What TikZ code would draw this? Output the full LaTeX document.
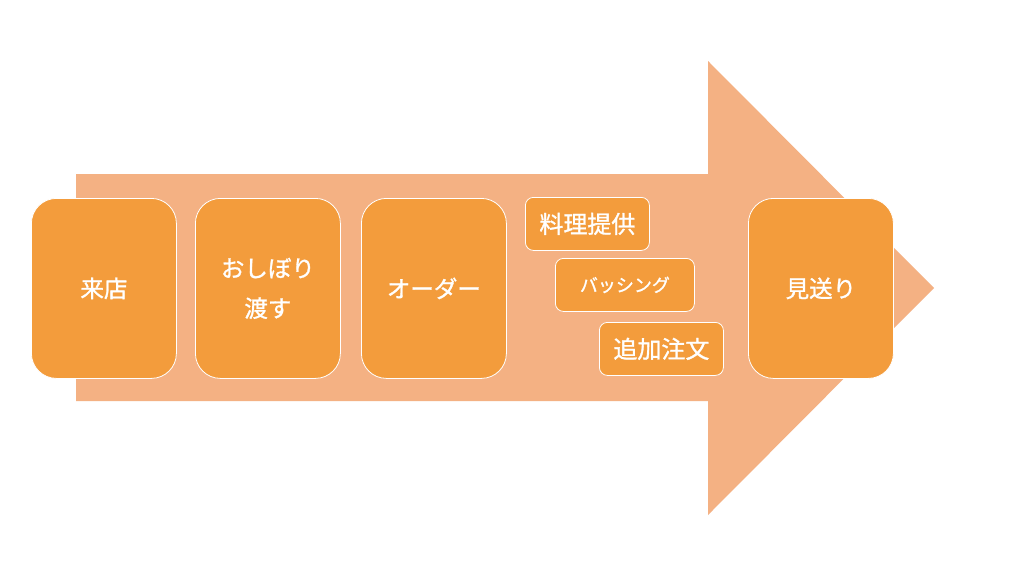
\documentclass[tikz,border=0pt]{standalone}
\usepackage{fontspec}
\newfontfamily\cjk[FakeBold=1.2,AutoFakeBold=false]{Noto Sans CJK JP}
\definecolor{arrowc}{HTML}{F4B183}
\definecolor{boxc}{HTML}{F39C3C}
\begin{document}
\begin{tikzpicture}[x=1pt,y=-1pt,
  bigbox/.style={draw=white,line width=0.8pt,fill=boxc,rounded corners=25pt,
    minimum width=145pt,minimum height=180pt,text=white,font=\cjk\fontsize{23.5}{40}\selectfont,
    align=center,inner sep=0pt,anchor=north west},
  smallbox/.style={draw=white,line width=0.8pt,fill=boxc,rounded corners=8pt,
    minimum height=53pt,text=white,font=\cjk\fontsize{24}{28}\selectfont,
    inner sep=0pt,anchor=north west}]
\useasboundingbox (0,0) rectangle (1024,576);
\fill[white] (0,0) rectangle (1024,576);
\fill[arrowc] (76,174) -- (708,174) -- (708,61) -- (934,288) -- (708,515) -- (708,401) -- (76,401) -- cycle;
\node[bigbox] (a) at (31,198) {来店};
\node[bigbox] (b) at (195,198) {おしぼり\\渡す};
\node[bigbox] (c) at (361,198) {オーダー};
\node[bigbox] (e) at (748,198) {見送り};
\node[smallbox,minimum width=124pt] (d1) at (525,197) {料理提供};
\node[smallbox,minimum width=139pt,font=\cjk\fontsize{18}{20}\selectfont] (d2) at (555,258) {バッシング};
\node[smallbox,minimum width=124pt] (d3) at (599,322) {追加注文};
\end{tikzpicture}
\end{document}
